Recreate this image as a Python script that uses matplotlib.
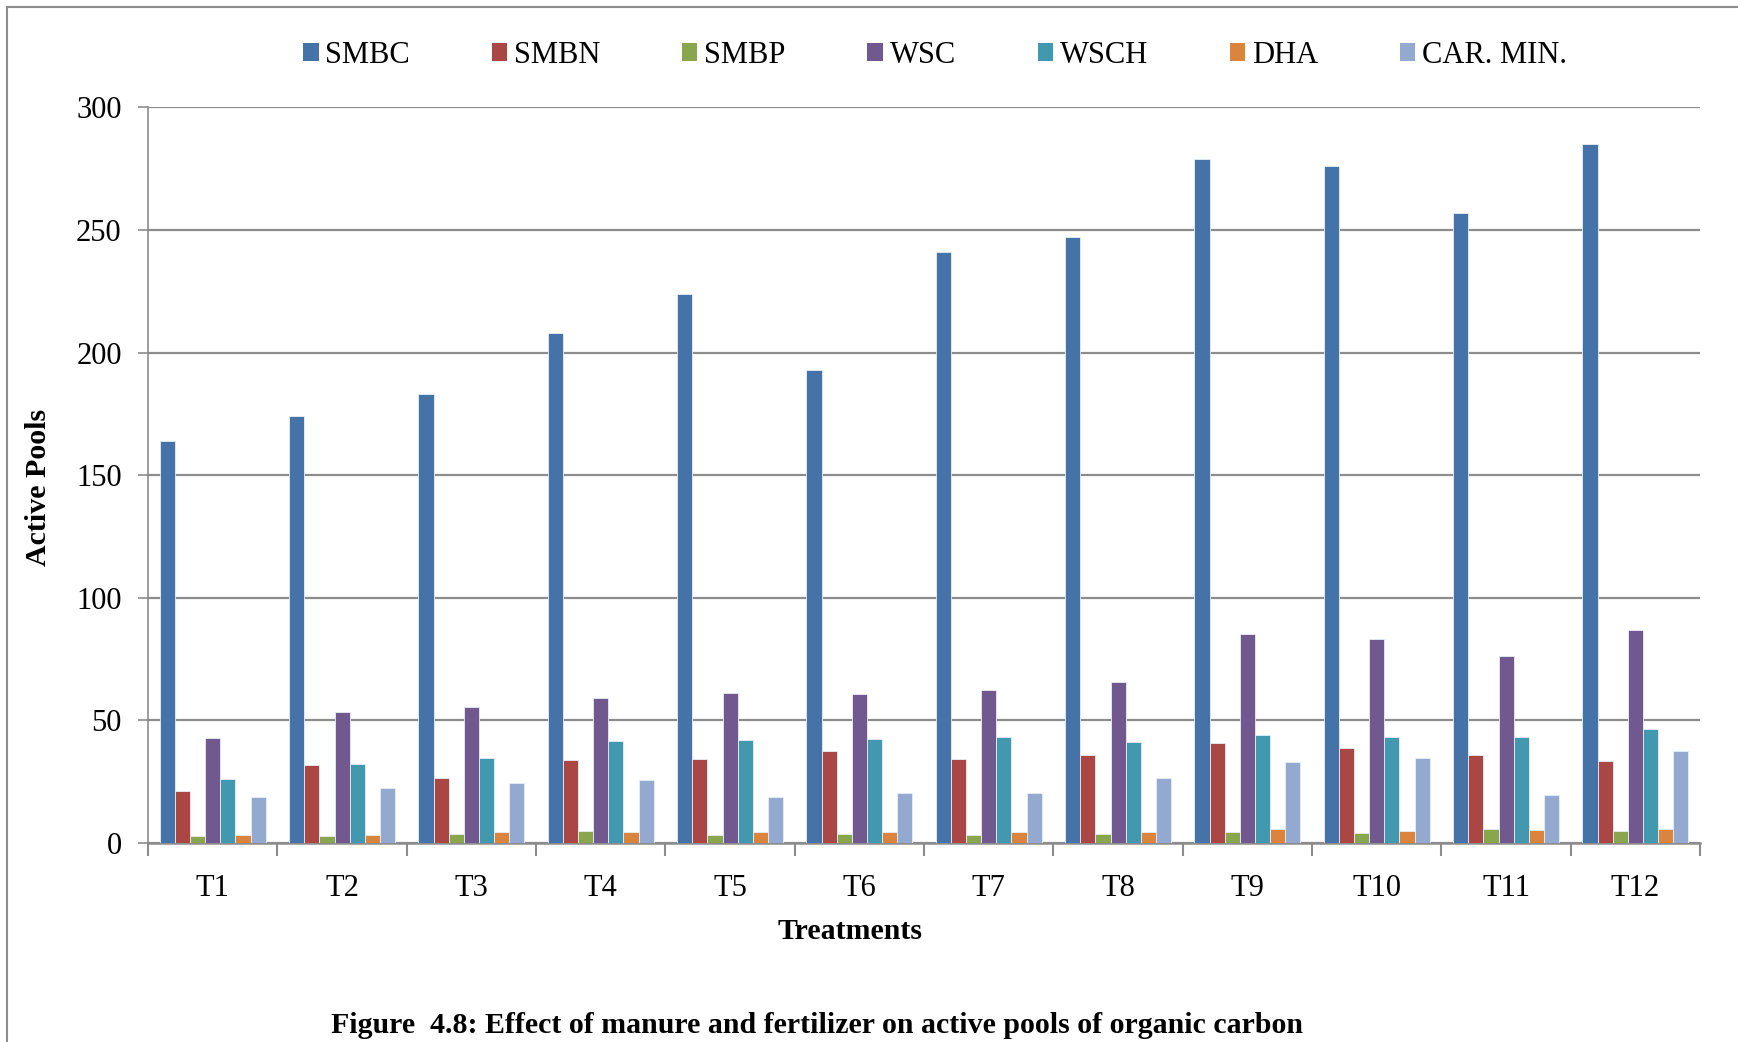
import numpy as np
import matplotlib
matplotlib.use('Agg')
import matplotlib.pyplot as plt
from matplotlib.patches import Patch
from matplotlib.lines import Line2D

plt.rcParams['font.family'] = ['Liberation Serif', 'DejaVu Serif']

# data
treatments = ['T1', 'T2', 'T3', 'T4', 'T5', 'T6', 'T7', 'T8', 'T9', 'T10', 'T11', 'T12']
smbc = [164, 174, 183, 208, 224, 193, 241, 247, 279, 276, 257, 285]
smbn = [21.1, 32.0, 26.6, 34.0, 34.1, 37.4, 34.1, 35.8, 40.6, 38.6, 36.0, 33.3]
smbp = [3.0, 3.0, 3.7, 4.7, 3.4, 3.7, 3.4, 3.7, 4.5, 4.0, 5.9, 4.7]
wsc = [42.9, 53.4, 55.5, 59.2, 61.2, 60.9, 62.3, 65.5, 85.2, 83.3, 76.3, 86.7]
wsch = [25.9, 32.3, 34.5, 41.5, 41.9, 42.3, 43.2, 41.1, 44.1, 43.3, 43.3, 46.6]
dha = [3.4, 3.4, 4.5, 4.5, 4.5, 4.5, 4.5, 4.5, 5.9, 4.7, 5.1, 5.5]
car_min = [18.6, 22.6, 24.4, 25.5, 18.6, 20.5, 20.3, 26.3, 32.9, 34.5, 19.7, 37.4]

series_names = ['SMBC', 'SMBN', 'SMBP', 'WSC', 'WSCH', 'DHA', 'CAR. MIN.']
series = [smbc, smbn, smbp, wsc, wsch, dha, car_min]
colors = ['#4572A7', '#AA4643', '#89A54E', '#71588F', '#4198AF', '#DB843D', '#93A9CF']

fs = 22
fs_bold = 21.5

fig = plt.figure(figsize=(17.38, 10.42), dpi=100)
ax = fig.add_axes([0.0852, 0.191, 0.8930, 0.706])

x = np.arange(len(treatments))
w = 0.117
n = len(series)
for i, (vals, c) in enumerate(zip(series, colors)):
    ax.bar(x + (i - (n - 1) / 2) * w, vals, w, color=c, edgecolor='#e8eef6', linewidth=0.6, zorder=3)

ax.set_xlim(-0.5, len(treatments) - 0.5)
ax.set_ylim(0, 300)
ax.set_yticks(np.arange(0, 301, 50))
ax.yaxis.grid(True, color='#8c8c8c', linewidth=1.6, zorder=0)
ax.set_axisbelow(True)

ax.set_xticks(x)
ax.set_xticklabels(treatments, fontsize=fs)
ax.set_xticks(np.arange(-0.5, len(treatments)), minor=True)
ax.tick_params(axis='x', which='major', length=0, pad=22)
ax.tick_params(axis='x', which='minor', length=9, width=1.5, color='#8c8c8c', direction='out')
ax.tick_params(axis='y', labelsize=fs, length=7, width=1.2, color='#8c8c8c', pad=12)

for s in ['top', 'right']:
    ax.spines[s].set_visible(False)
ax.spines['left'].set_color('#8c8c8c')
ax.spines['left'].set_linewidth(1.2)
ax.spines['bottom'].set_color('#8c8c8c')
ax.spines['bottom'].set_linewidth(1.8)

handles = [Patch(facecolor=c, edgecolor='none') for c in colors]
fig.legend(handles, series_names, loc='center', bbox_to_anchor=(0.538, 0.947), ncol=7,
           frameon=False, fontsize=fs, handlelength=0.5, handleheight=0.5,
           handletextpad=0.22, columnspacing=2.68)

fig.text(39 / 1738, 0.532, 'Active Pools', rotation=90, ha='center', va='center',
         fontsize=fs_bold, fontweight='bold')
fig.text(850 / 1738, 0.1065, 'Treatments', ha='center', va='center', fontsize=fs_bold, fontweight='bold')
fig.text(817 / 1738, 0.016, 'Figure  4.8: Effect of manure and fertilizer on active pools of organic carbon',
         ha='center', va='center', fontsize=fs_bold, fontweight='bold')

# outer frame (cropped at right and bottom)
fig.add_artist(Line2D([7 / 1738, 1], [1 - 7 / 1042, 1 - 7 / 1042], color='#8c8c8c', lw=1.5))
fig.add_artist(Line2D([7 / 1738, 7 / 1738], [0, 1 - 7 / 1042], color='#8c8c8c', lw=1.5))

fig.savefig('out.png', dpi=100)
